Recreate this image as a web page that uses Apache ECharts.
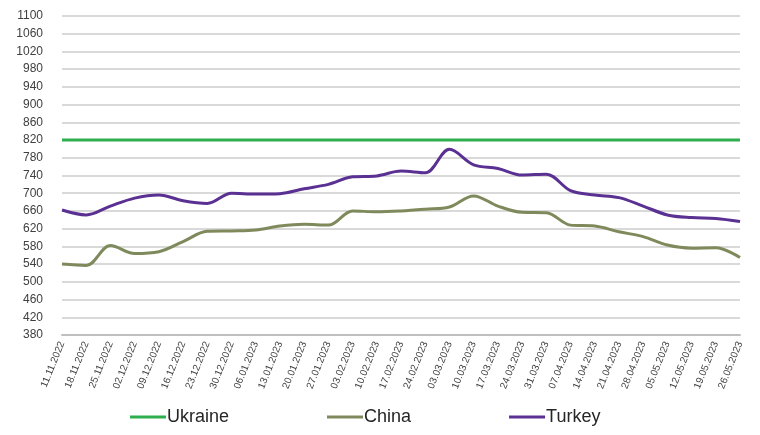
<!DOCTYPE html>
<html>
<head>
<meta charset="utf-8">
<script src="https://cdn.jsdelivr.net/npm/echarts@6/dist/echarts.min.js"></script>
<style>
  html, body { margin: 0; padding: 0; background: #ffffff; }
  #chart { width: 760px; height: 435px; }
</style>
</head>
<body>
<div id="chart"></div>
<script>
// Weekly price observations
var dates = [
  '11.11.2022', '18.11.2022', '25.11.2022', '02.12.2022', '09.12.2022', '16.12.2022',
  '23.12.2022', '30.12.2022', '06.01.2023', '13.01.2023', '20.01.2023', '27.01.2023',
  '03.02.2023', '10.02.2023', '17.02.2023', '24.02.2023', '03.03.2023', '10.03.2023',
  '17.03.2023', '24.03.2023', '31.03.2023', '07.04.2023', '14.04.2023', '21.04.2023',
  '28.04.2023', '05.05.2023', '12.05.2023', '19.05.2023', '26.05.2023'
];
var ukraine = [
  820, 820, 820, 820, 820, 820, 820, 820, 820, 820, 820, 820, 820, 820, 820,
  820, 820, 820, 820, 820, 820, 820, 820, 820, 820, 820, 820, 820, 820
];
var china = [
  540, 537, 582, 564, 568, 591, 614, 615, 617, 626, 630, 628, 660, 658, 660,
  664, 669, 694, 671, 657, 656, 628, 626, 613, 602, 583, 576, 577, 555
];
var turkey = [
  662, 651, 671, 689, 696, 683, 677, 700, 698, 699, 710, 720, 737, 739, 750,
  746, 799, 764, 756, 741, 743, 706, 696, 690, 671, 651, 645, 643, 636
];

var colors = { ukraine: '#2fae4e', china: '#7f8a5c', turkey: '#5a3192' };

var chart = echarts.init(document.getElementById('chart'), null, { renderer: 'canvas' });

function lineSeries(name, data, color) {
  return {
    name: name,
    type: 'line',
    data: data,
    smooth: 0.35,
    showSymbol: false,
    symbol: 'none',
    lineStyle: { color: color, width: 3 },
    itemStyle: { color: color }
  };
}

chart.setOption({
  animation: false,
  backgroundColor: '#ffffff',
  textStyle: { fontFamily: 'Liberation Sans, Arial, sans-serif' },
  grid: { left: 62, right: 20, top: 16, bottom: 100 },
  xAxis: {
    type: 'category',
    data: dates,
    boundaryGap: false,
    axisLine: { show: true, lineStyle: { color: '#bfbfbf', width: 2 } },
    axisTick: { show: false },
    axisLabel: {
      interval: 0,
      rotate: 68,
      fontSize: 10,
      color: '#404040',
      margin: 7
    },
    splitLine: { show: false }
  },
  yAxis: {
    type: 'value',
    min: 380,
    max: 1100,
    interval: 40,
    axisLine: { show: false },
    axisTick: { show: false },
    axisLabel: {
      fontSize: 12,
      color: '#404040',
      margin: 19,
      formatter: function (v) { return String(v); }
    },
    splitLine: { show: true, lineStyle: { color: '#d9d9d9', width: 2 } }
  },
  legend: {
    bottom: 4,
    left: 125,
    itemGap: 98,
    itemWidth: 36,
    itemHeight: 3,
    icon: 'rect',
    textStyle: { fontSize: 18, color: '#262626', padding: [0, 0, 0, -4] },
    data: ['Ukraine', 'China', 'Turkey']
  },
  series: [
    lineSeries('Ukraine', ukraine, colors.ukraine),
    lineSeries('China', china, colors.china),
    lineSeries('Turkey', turkey, colors.turkey)
  ]
});
</script>
</body>
</html>
